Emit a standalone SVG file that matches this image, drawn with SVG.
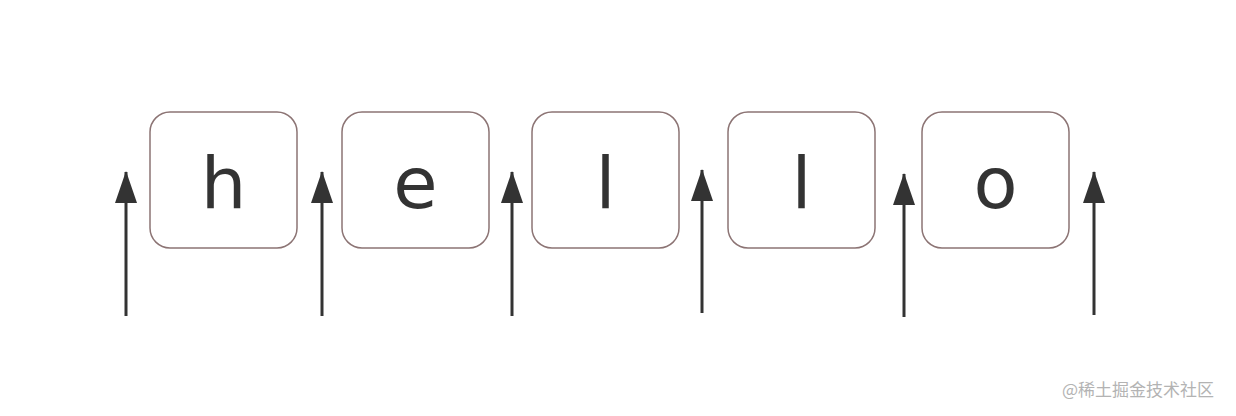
<svg xmlns="http://www.w3.org/2000/svg" width="1236" height="416" viewBox="0 0 1236 416">
<style>
.box{fill:#fff;stroke:#8c7474;stroke-width:1.5}
.lt{font-family:"DejaVu Sans",sans-serif;font-size:72px;fill:#333;text-anchor:middle}
.ar{stroke:#333;stroke-width:3;fill:none}
.wm{font-family:"Noto Sans CJK SC",sans-serif;font-size:17px;fill:#b3b3b3}
</style>
<defs>
<marker id="ah" markerUnits="userSpaceOnUse" markerWidth="32" markerHeight="22" refX="31" refY="11" orient="auto" viewBox="0 0 32 22">
<path d="M0 0 L32 11 L0 22 Z" fill="#333"/>
</marker>
</defs>
<rect width="1236" height="416" fill="#fff"/>
<g id="n1"><rect class="box" x="150" y="112" width="147" height="136" rx="20"/><text class="lt" x="223.5" y="208">h</text></g>
<g id="n2"><rect class="box" x="342" y="112" width="147" height="136" rx="20"/><text class="lt" x="415.5" y="208">e</text></g>
<g id="n3"><rect class="box" x="532" y="112" width="147" height="136" rx="20"/><text class="lt" x="605.5" y="208">l</text></g>
<g id="n4"><rect class="box" x="728" y="112" width="147" height="136" rx="20"/><text class="lt" x="801.5" y="208">l</text></g>
<g id="n5"><rect class="box" x="922" y="112" width="147" height="136" rx="20"/><text class="lt" x="995.5" y="208">o</text></g>
<g id="connectors">
<line class="ar" x1="126" y1="316" x2="126" y2="172" marker-end="url(#ah)"/>
<line class="ar" x1="322" y1="316" x2="322" y2="172" marker-end="url(#ah)"/>
<line class="ar" x1="512" y1="316" x2="512" y2="172" marker-end="url(#ah)"/>
<line class="ar" x1="702" y1="313" x2="702" y2="170" marker-end="url(#ah)"/>
<line class="ar" x1="904" y1="317" x2="904" y2="174" marker-end="url(#ah)"/>
<line class="ar" x1="1094" y1="315" x2="1094" y2="172" marker-end="url(#ah)"/>
</g>
<text class="wm" x="1062" y="396">@稀土掘金技术社区</text>
</svg>
